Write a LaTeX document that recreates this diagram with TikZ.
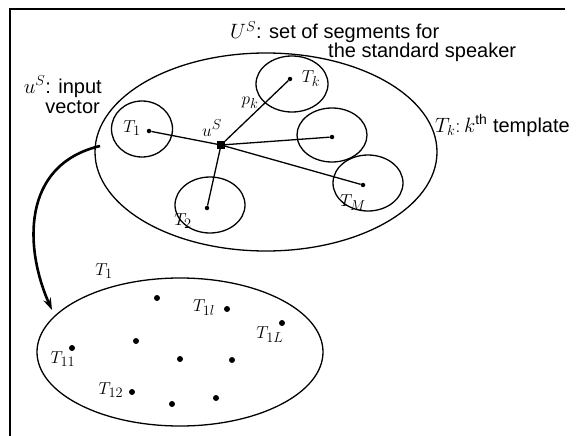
\documentclass[tikz,border=0pt]{standalone}
\usepackage{fontspec}
\setmainfont{Liberation Sans}
\usetikzlibrary{shapes.geometric,arrows.meta}
\begin{document}
\begin{tikzpicture}[x=1pt,y=-1pt,
  ell/.style={draw, ellipse, line width=1.3pt, inner sep=0pt},
  sdot/.style={circle, fill, inner sep=0pt, minimum size=4.5pt},
  bdot/.style={circle, fill, inner sep=0pt, minimum size=6pt},
  link/.style={line width=1.3pt},
  lbl/.style={inner sep=0pt, font=\fontsize{19}{22}\selectfont},
  txt/.style={inner sep=0pt, font=\fontsize{20}{24}\selectfont}]
\useasboundingbox (0,0) rectangle (586,436);
% frame
\coordinate (fTR) at (565,9);
\coordinate (fTL) at (10,9);
\coordinate (fBL) at (10,436);
\draw[line width=1.4pt] (fTR) -- (fTL) -- (fBL);
% big set
\node[ell, minimum width=342pt, minimum height=198pt] (US) at (266,152) {};
% templates
\node[ell, minimum width=61pt, minimum height=56pt] (C1) at (142,129) {};
\node[ell, minimum width=72pt, minimum height=56pt] (Ck) at (292,84) {};
\node[ell, minimum width=70pt, minimum height=54pt] (Cr) at (332,135) {};
\node[ell, minimum width=70pt, minimum height=56pt] (CM) at (368,183) {};
\node[ell, minimum width=70pt, minimum height=56pt] (C2) at (210,205) {};
% template centres
\node[sdot] (d1) at (149,131) {};
\node[sdot] (dk) at (290,79) {};
\node[sdot] (dr) at (332,137) {};
\node[sdot] (dM) at (363,185) {};
\node[sdot] (d2) at (207,208) {};
% input vector
\node[fill, inner sep=0pt, minimum size=7.5pt] (u) at (221,145) {};
\draw[link] (u) -- (d1);
\draw[link] (u) -- (dk);
\draw[link] (u) -- (dr);
\draw[link] (u) -- (dM);
\draw[link] (u) -- (d2);
% labels inside
\node[lbl] (l1) at (132,128) {$T_1$};
\node[lbl] (lk) at (311,79) {$T_k$};
\node[lbl] (lM) at (353,203) {$T_M$};
\node[lbl] (l2) at (183,221) {$T_2$};
\node[lbl] (lu) at (212,128) {$u^S$};
\node[lbl] (lp) at (250,103) {$p_k$};
% outer texts
\node[txt, anchor=base west] (t1) at (230,39) {$U^S$: set of segments for};
\node[txt, anchor=base west] (t2) at (328,58) {the standard speaker};
\node[txt, anchor=base east] (t3) at (102,93) {$u^S$: input};
\node[txt, anchor=base east] (t4) at (100,113) {vector};
\node[txt, anchor=base west] (t5) at (435,132) {$T_k\colon k^{\hbox{\fontsize{14}{14}\selectfont th}}$ template};
% arrow
\coordinate (aS) at (100,146);
\coordinate (aE) at (52,310);
\draw[line width=2.6pt, -{Stealth[length=12pt,width=8pt]}] (aS) .. controls (20,165) and (25,250) .. (aE);
% expanded template
\node[ell, minimum width=286pt, minimum height=148pt] (T1set) at (180,352) {};
\node[lbl] (lT1) at (104,271) {$T_1$};
\node[bdot] (b1) at (157,298) {};
\node[bdot] (b2) at (227,309) {};
\node[bdot] (b3) at (282,323) {};
\node[bdot] (b4) at (136,341) {};
\node[bdot] (b5) at (72,348) {};
\node[bdot] (b6) at (180,359) {};
\node[bdot] (b7) at (232,360) {};
\node[bdot] (b8) at (132,392) {};
\node[bdot] (b9) at (172,404) {};
\node[bdot] (b10) at (216,398) {};
\node[lbl] (lb2) at (204,308) {$T_{1l}$};
\node[lbl] (lb3) at (270,335) {$T_{1L}$};
\node[lbl] (lb5) at (63,359) {$T_{11}$};
\node[lbl] (lb8) at (111,390) {$T_{12}$};
\end{tikzpicture}
\end{document}
